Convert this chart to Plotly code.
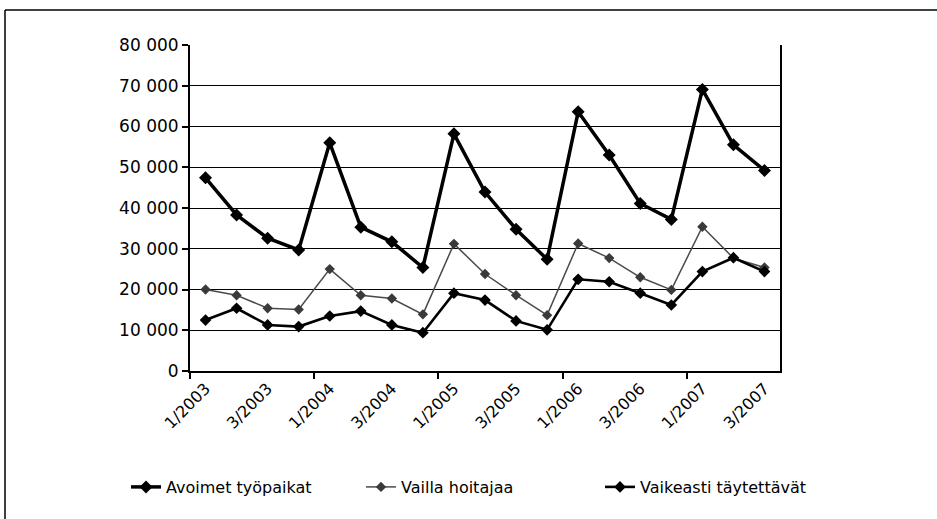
import plotly.graph_objects as go

quarters = ["1/2003", "2/2003", "3/2003", "4/2003",
            "1/2004", "2/2004", "3/2004", "4/2004",
            "1/2005", "2/2005", "3/2005", "4/2005",
            "1/2006", "2/2006", "3/2006", "4/2006",
            "1/2007", "2/2007", "3/2007"]

avoimet = [47400, 38300, 32600, 29700, 56000, 35300, 31700, 25400, 58200, 43900,
           34800, 27400, 63600, 53000, 41100, 37200, 69100, 55500, 49200]
vailla = [20000, 18600, 15400, 15100, 25000, 18600, 17800, 13900, 31200, 23800,
          18600, 13700, 31300, 27700, 23000, 19900, 35400, 27700, 25400]
vaikeasti = [12500, 15400, 11300, 10900, 13500, 14700, 11300, 9400, 19100, 17400,
             12300, 10100, 22500, 21900, 19100, 16200, 24400, 27800, 24400]

series_names = ["Avoimet työpaikat", "Vailla hoitajaa", "Vaikeasti täytettävät"]

y_ticks = [0, 10000, 20000, 30000, 40000, 50000, 60000, 70000, 80000]

xpos = list(range(len(quarters)))
label_idx = xpos[::2]
boundary_ticks = [i - 0.5 for i in xpos[::4]]

FONT = "DejaVu Sans"

fig = go.Figure()
fig.add_trace(go.Scatter(
    x=xpos, y=avoimet, name=series_names[0], mode="lines+markers",
    line=dict(color="black", width=3.5),
    marker=dict(symbol="diamond", size=10, color="black"),
    legend="legend"))
fig.add_trace(go.Scatter(
    x=xpos, y=vailla, name=series_names[1], mode="lines+markers",
    line=dict(color="#4a4a4a", width=1.5),
    marker=dict(symbol="diamond", size=8, color="#3a3a3a"),
    legend="legend2"))
fig.add_trace(go.Scatter(
    x=xpos, y=vaikeasti, name=series_names[2], mode="lines+markers",
    line=dict(color="black", width=2.6),
    marker=dict(symbol="diamond", size=9, color="black"),
    legend="legend3"))

W, H = 937, 519
L, R, T, B = 190, 780, 45, 371

def px_x(p):
    return (p - L) / (R - L)

def px_y(p):
    return (B - p) / (B - T)

legend_common = dict(xref="container", yref="container", orientation="h",
                     yanchor="middle", xanchor="left", bgcolor="rgba(0,0,0,0)",
                     font=dict(family=FONT, size=16, color="black"),
                     itemwidth=30, borderwidth=0)

fig.update_layout(
    width=W, height=H,
    margin=dict(l=L, r=W - R, t=T, b=H - B),
    paper_bgcolor="white", plot_bgcolor="white",
    separators=", ",
    font=dict(family=FONT, size=16, color="black"),
    showlegend=True,
    legend=dict(x=126 / W, y=1 - 487 / H, **legend_common),
    legend2=dict(x=361 / W, y=1 - 487 / H, **legend_common),
    legend3=dict(x=600 / W, y=1 - 487 / H, **legend_common),
    xaxis=dict(
        range=[-0.5, len(quarters) - 0.5],
        tickmode="array", tickvals=label_idx,
        ticktext=[quarters[i] for i in label_idx],
        tickangle=-45, ticks="",
        showgrid=False, zeroline=False,
        showline=True, linecolor="black", linewidth=2,
        tickfont=dict(family=FONT, size=16, color="black"),
        minor=dict(tickmode="array", tickvals=boundary_ticks, ticks="outside",
                   ticklen=6, tickwidth=1.5, tickcolor="black", showgrid=False),
    ),
    yaxis=dict(
        range=[0, 80000], tickmode="array", tickvals=y_ticks,
        tickformat=",d",
        ticks="outside", ticklen=6, tickwidth=1.5, tickcolor="black",
        showgrid=True, gridcolor="black", gridwidth=1.4,
        zeroline=False,
        showline=True, linecolor="black", linewidth=2, mirror=True,
        tickfont=dict(family=FONT, size=17, color="black"),
    ),
    shapes=[
        dict(type="line", xref="paper", yref="paper",
             x0=px_x(5), x1=px_x(W), y0=px_y(10), y1=px_y(10),
             line=dict(color="black", width=1.5)),
        dict(type="line", xref="paper", yref="paper",
             x0=px_x(5), x1=px_x(5), y0=px_y(10), y1=px_y(H),
             line=dict(color="black", width=1.5)),
    ],
)

fig.write_html("out.html",
               config={"displayModeBar": False},
               post_script="document.body.style.margin='0';document.body.style.overflow='hidden';")
